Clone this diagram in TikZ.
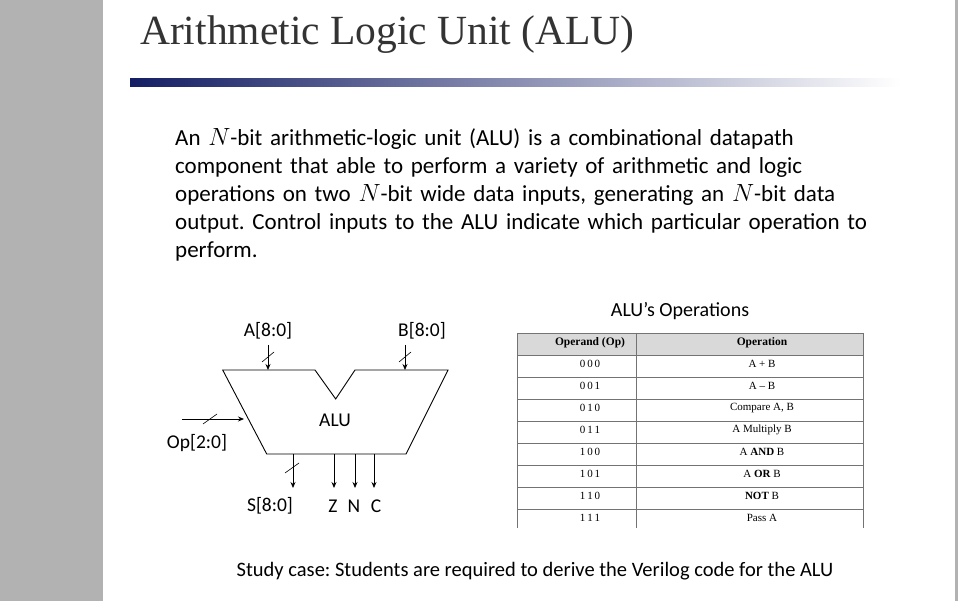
\documentclass[tikz,border=0pt]{standalone}
\usepackage{fontspec}
\setmainfont{Carlito}
\newfontfamily\tnr{Liberation Serif}
\usetikzlibrary{arrows.meta}
\frenchspacing
\begin{document}
\begin{tikzpicture}[x=1pt,y=-1pt,
  wire/.style={line width=0.8pt,-{Stealth[length=6pt,width=5pt]}},
  tick/.style={line width=0.6pt},
  lbl/.style={font=\fontsize{19.5}{19.5}\selectfont,inner sep=0pt},
  cell/.style={font=\tnr\fontsize{11}{11}\selectfont,inner sep=0pt},
  body/.style={font=\fontsize{23}{28}\selectfont,inner sep=0pt,anchor=north west,align=left,text width=720pt}]
\useasboundingbox (0,0) rectangle (958,601);
\fill[white] (0,0) rectangle (958,601);
\fill[black!30] (0,0) rectangle (103,601);
\fill[black!30] (955,0) rectangle (958,601);
\node[anchor=base west,inner sep=0pt,font=\tnr\fontsize{41.5}{41.5}\selectfont,text=black!80] (title) at (140,45) {Arithmetic Logic Unit (ALU)};
\shade[left color={rgb,255:red,20;green,30;blue,100},right color=white] (130,79) rectangle (900,87);
\node[body] (para) at (175,128) {An $N$-bit arithmetic-logic unit (ALU) is a combinational datapath\\ component that able to perform a variety of arithmetic and logic\\ operations on two $N$-bit wide data inputs, generating an $N$-bit data\\ output. Control inputs to the ALU indicate which particular operation to\\ perform.};
% ALU
\draw[line width=0.9pt] (222.7,370) -- (315,370) -- (335.7,399) -- (355,370) -- (448,370) -- (406,454) -- (266.7,454) -- cycle;
\node[lbl] (alu) at (335,420) {ALU};
\coordinate (ain) at (268,370); \coordinate (bin) at (405,370);
\coordinate (opin) at (244,419);
\node[lbl] (A) at (268,331) {A[8:0]};
\node[lbl] (B) at (422,331) {B[8:0]};
\node[lbl] (op) at (197,443) {Op[2:0]};
\draw[wire] (268,345) -- (ain); \draw[tick] (262,362) -- (274,352);
\draw[wire] (405,345) -- (bin); \draw[tick] (399,362) -- (411,352);
\coordinate (ops) at (182,419);
\draw[wire] (ops) -- (opin); \draw[tick] (203,424) -- (217,414);
\coordinate (sout) at (293,454); \coordinate (zout) at (334,454); \coordinate (nout) at (355,454); \coordinate (cout) at (374,454);
\node[lbl] (S) at (270,506) {S[8:0]};
\node[lbl] (Z) at (333,506) {Z};
\node[lbl] (N) at (354,506) {N};
\node[lbl] (C) at (376,506) {C};
\draw[wire] (sout) -- (293,488); \draw[tick] (285,473) -- (299,463);
\draw[wire] (zout) -- (334,488);
\draw[wire] (nout) -- (355,488);
\draw[wire] (cout) -- (374,488);
% table
\node[font=\fontsize{20}{20}\selectfont,inner sep=0pt] (tt) at (680,311) {ALU’s Operations};
\fill[black!15] (517,333) rectangle (863,355);
\draw[black!55,line width=0.6pt] (517,333) -- (863,333);
\foreach \y in {355,377,399,421,443,465,487,509} \draw[black!55,line width=0.6pt] (517,\y) -- (863,\y);
\draw[black!55,line width=0.6pt] (517,333) -- (517,528) (636,333) -- (636,528) (863,333) -- (863,528);
\node[cell,font=\tnr\bfseries\fontsize{11.5}{11.5}\selectfont] (h1) at (590,343) {Operand (Op)};
\node[cell,font=\tnr\bfseries\fontsize{11.5}{11.5}\selectfont] (h2) at (762,343) {Operation};
\foreach \c/\o [count=\i from 0] in {0\,0\,0/A + B,0\,0\,1/A \textendash{} B,0\,1\,0/{Compare A, B},0\,1\,1/A Multiply B,1\,0\,0/A \textbf{AND} B,1\,0\,1/A \textbf{OR} B,1\,1\,0/\textbf{NOT} B,1\,1\,1/Pass A}{
  \node[cell] (c\i) at (590,364+22*\i) {\c};
  \node[cell] (o\i) at (762,364+22*\i) {\o};
}
\node[font=\fontsize{20.5}{20.5}\selectfont,inner sep=0pt] (study) at (535,571) {Study case: Students are required to derive the Verilog code for the ALU};
\end{tikzpicture}
\end{document}
